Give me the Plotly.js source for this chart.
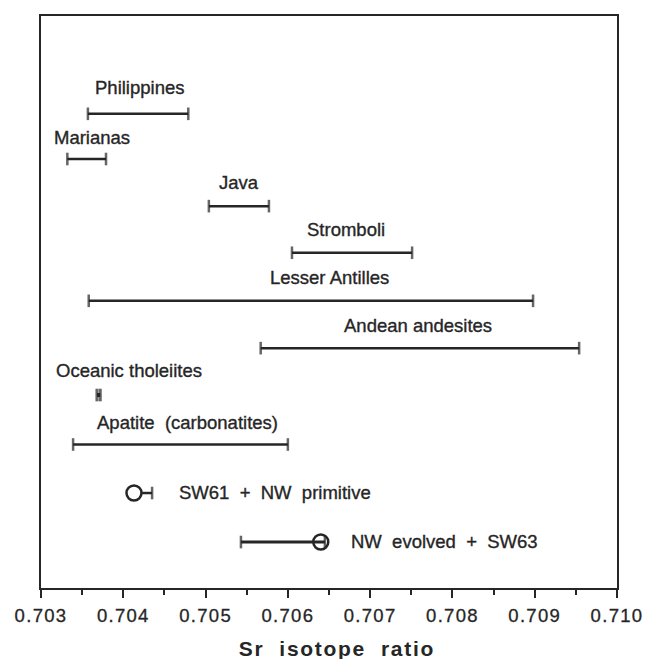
<!DOCTYPE html>
<html>
<head>
<meta charset="utf-8">
<script src="https://cdn.plot.ly/plotly-3.0.1.min.js"></script>
<style>
  html, body { margin: 0; padding: 0; background: #fff; }
  #chart { width: 647px; height: 659px; }
  .xtick text { letter-spacing: 1.3px; stroke: #262626; stroke-width: 0.3px; }
  .annotation-text { stroke: #262626; stroke-width: 0.35px; }
  .annotation.axis-title text { letter-spacing: 1.7px; stroke-width: 0px; }
</style>
</head>
<body>
<div id="chart"></div>
<script>
// ---- data ----
const groups = ['Philippines', 'Marianas', 'Java', 'Stromboli', 'Lesser Antilles',
  'Andean andesites', 'Oceanic tholeiites', 'Apatite\u00A0\u00A0(carbonatites)',
  'SW61\u00A0\u00A0+\u00A0\u00A0NW\u00A0\u00A0primitive', 'NW\u00A0\u00A0evolved\u00A0\u00A0+\u00A0\u00A0SW63'];
const rangeLow  = [0.70357, 0.70332, 0.70504, 0.70605, 0.70358, 0.70567, 0.70368, 0.70339, 0.70413, 0.70543];
const rangeHigh = [0.70479, 0.70379, 0.70577, 0.70751, 0.70898, 0.70954, 0.70372, 0.70600, 0.70435, 0.70645];
const sampleMean = [null, null, null, null, null, null, null, null, 0.70413, 0.70640];
const tickVals = [0.703, 0.704, 0.705, 0.706, 0.707, 0.708, 0.709, 0.710];

// ---- layout / style (not data) ----
const ink = '#262626';
const rowY = [10, 9.05, 8.06, 7.08, 6.07, 5.075, 4.09, 3.05, 2.03, 1];
const labelX = [0.70420, 0.70362, 0.70541, 0.70671, 0.70650, 0.70758, 0.70407, 0.70478, 0.70465, 0.70674];
const labelAnchor = ['center','center','center','center','center','center','center','center','left','left'];
const labelShift = [26.5, 21.5, 23.3, 23.5, 23.8, 22.5, 24.6, 22, 1, 1];

const n = groups.length;

const traces = [];
groups.forEach((g, i) => {
  const hasMean = sampleMean[i] !== null;
  const leftCap = !(hasMean && sampleMean[i] === rangeLow[i]);
  const tiny = (rangeHigh[i] - rangeLow[i]) < 0.0001;
  const w = tiny ? 4 : (i === n - 1 ? 3 : 2.5);
  traces.push({
    type: 'scatter', mode: 'lines+markers',
    x: [rangeLow[i], rangeHigh[i]], y: [rowY[i], rowY[i]],
    line: { color: ink, width: w },
    marker: { symbol: 'line-ns', size: [leftCap ? 9 : 0, 9], color: ink,
              line: { color: ink, width: tiny ? 3 : 2.5 } },
    showlegend: false, hoverinfo: 'skip'
  });
  if (hasMean) {
    traces.push({
      type: 'scatter', mode: 'markers',
      x: [sampleMean[i]], y: [rowY[i]],
      marker: { symbol: i === n - 1 ? 'circle-open' : 'circle', size: 15,
                color: i === n - 1 ? ink : '#ffffff',
                line: { color: ink, width: 2.5 } },
      showlegend: false, hoverinfo: 'skip'
    });
  }
});

const annotations = groups.map((g, i) => ({
  x: labelX[i], y: rowY[i], xref: 'x', yref: 'y',
  text: g, showarrow: false,
  xanchor: labelAnchor[i], yanchor: 'middle', yshift: labelShift[i],
  font: { family: 'Liberation Sans, Arial, sans-serif', size: 18.5, color: ink }
}));
annotations.push({
  x: 0.5 + 8 / 576, y: 0, xref: 'paper', yref: 'paper',
  text: 'Sr\u00A0\u00A0isotope\u00A0\u00A0ratio', showarrow: false,
  xanchor: 'center', yanchor: 'top', yshift: -47,
  font: { family: 'Liberation Sans, Arial, sans-serif', size: 21, color: ink, weight: 'bold' }
});

const layout = {
  width: 647, height: 659,
  margin: { l: 41, r: 30, t: 16, b: 71 },
  paper_bgcolor: '#ffffff', plot_bgcolor: '#ffffff',
  showlegend: false,
  xaxis: {
    range: [0.703, 0.710], tickvals: tickVals, ticktext: tickVals.map(v => v.toFixed(3)),
    ticks: 'outside', ticklen: 8, tickwidth: 2, tickcolor: ink, ticklabelstandoff: 2,
    minor: { dtick: 0.0005, tick0: 0.703, ticks: 'outside', ticklen: 5, tickwidth: 2, tickcolor: ink, showgrid: false },
    showline: true, linecolor: ink, linewidth: 2, mirror: true,
    showgrid: false, zeroline: false,
    tickfont: { family: 'Liberation Sans, Arial, sans-serif', size: 18.5, color: ink }
  },
  yaxis: {
    range: [0.034, 12.056], showticklabels: false, ticks: '',
    showline: true, linecolor: ink, linewidth: 2, mirror: true,
    showgrid: false, zeroline: false
  },
  annotations: annotations
};

Plotly.newPlot('chart', traces, layout, { staticPlot: true, displayModeBar: false }).then(() => {
  const anns = document.querySelectorAll('.annotation');
  if (anns.length) anns[anns.length - 1].classList.add('axis-title');
});
</script>
</body>
</html>
